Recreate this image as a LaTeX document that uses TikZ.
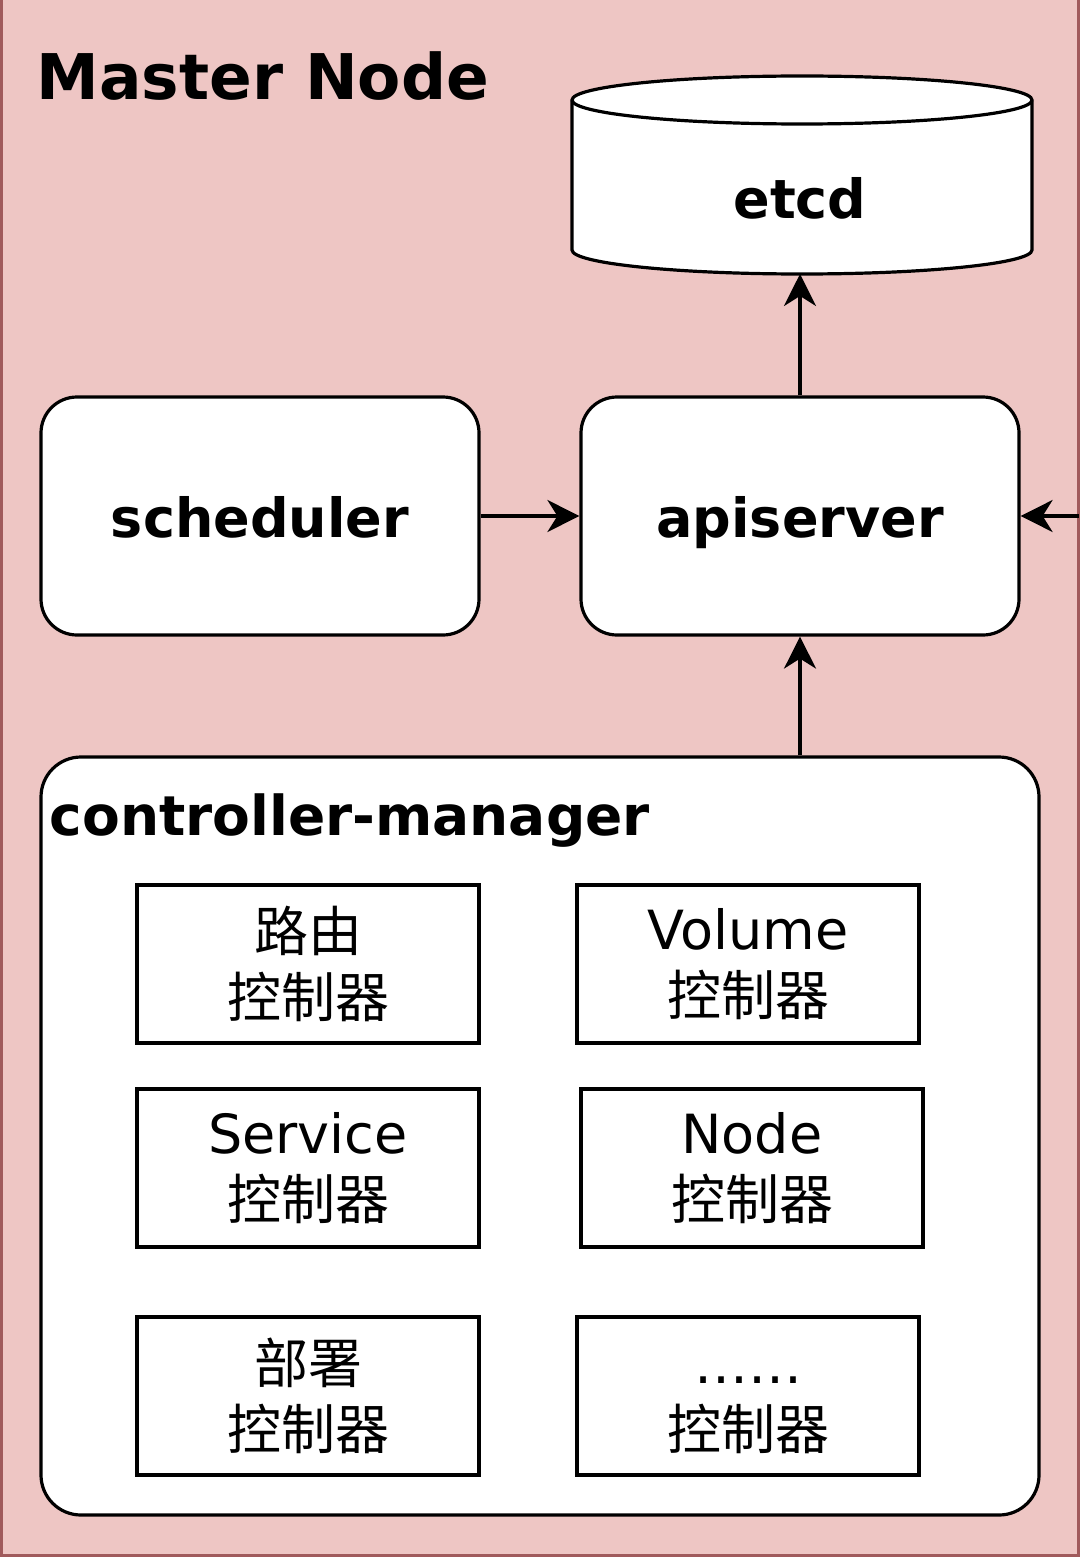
\documentclass[tikz,border=0pt]{standalone}
\usepackage{fontspec}
\setmainfont{DejaVu Sans}
\newfontfamily\cjk{Noto Sans CJK SC}
\usetikzlibrary{arrows.meta}
\definecolor{bgpink}{RGB}{238,198,196}
\definecolor{bgborder}{RGB}{160,90,92}
\begin{document}
\begin{tikzpicture}[x=1pt,y=-1pt,line width=3.2pt,
  comp/.style={draw=black,fill=white,rounded corners=36pt,minimum width=438pt,minimum height=238pt,inner sep=0pt,text height=48pt,text depth=6pt,font=\fontsize{54}{60}\selectfont\bfseries},
  ctrl/.style={draw=black,fill=white,minimum width=342pt,minimum height=158pt,inner sep=0pt,align=center,font=\fontsize{54}{66}\selectfont},
  arr/.style={-{Stealth[length=32pt,width=32pt,inset=10pt]},line width=3.2pt}]
\clip (0,0) rectangle (1082,1562);
\fill[white] (0,0) rectangle (1082,1562);
\draw[bgborder,fill=bgpink] (1.5,-20) rectangle (1078.5,1555.5);
% title
\node[anchor=base west,inner sep=0pt,font=\fontsize{63}{70}\selectfont\bfseries] (title) at (35,100) {Master Node};
% etcd cylinder
\draw[fill=white] (572,100) -- (572,250)
  arc[start angle=180,end angle=0,x radius=230,y radius=24]
  -- (1032,100) arc[start angle=0,end angle=-180,x radius=230,y radius=24] -- cycle;
\draw (572,100) arc[start angle=180,end angle=0,x radius=230,y radius=24];
\node[minimum width=460pt,minimum height=152pt,inner sep=0pt,outer sep=0pt,font=\fontsize{54}{60}\selectfont\bfseries] (etcd) at (800,198) {etcd};
% components
\node[comp] (sched) at (260,516) {scheduler};
\node[comp] (api) at (800,516) {apiserver};
\node[draw=black,fill=white,rounded corners=40pt,minimum width=998pt,minimum height=758pt,inner sep=0pt] (cm) at (540,1136) {};
\node[anchor=base west,inner sep=0pt,font=\fontsize{55}{60}\selectfont\bfseries] (cmlabel) at (48,835) {controller-manager};
% controllers
\node[ctrl] (c1) at (308,964) {{\cjk 路由}\\{\cjk 控制器}};
\node[ctrl] (c2) at (748,964) {Volume\\{\cjk 控制器}};
\node[ctrl] (c3) at (308,1168) {Service\\{\cjk 控制器}};
\node[ctrl] (c4) at (752,1168) {Node\\{\cjk 控制器}};
\node[ctrl] (c5) at (308,1396) {{\cjk 部署}\\{\cjk 控制器}};
\node[ctrl] (c6) at (748,1396) {\vphantom{\cjk 部署}……\\{\cjk 控制器}};
% connectors
\coordinate (ext) at (1078.5,516);
\draw[arr] (api.north) -- (etcd.south);
\draw[arr] (sched.east) -- (api.west);
\draw[arr] (ext) -- (api.east);
\draw[arr] (cm.north-|api.south) -- (api.south);
\end{tikzpicture}
\end{document}
